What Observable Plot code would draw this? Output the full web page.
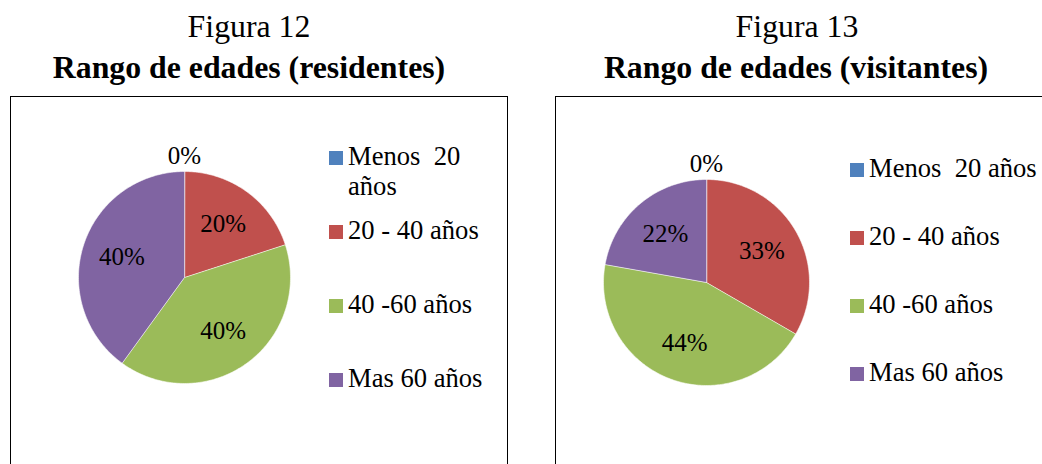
<!DOCTYPE html>
<html>
<head>
<meta charset="utf-8">
<script src="https://cdn.jsdelivr.net/npm/d3@7"></script>
<script src="https://cdn.jsdelivr.net/npm/@observablehq/plot@0.6"></script>
<style>
  html, body { margin: 0; padding: 0; background: #fff; }
  body { width: 1042px; height: 464px; position: relative; overflow: hidden; font-family: "Liberation Serif", "Times New Roman", serif; color: #000; }
  .t1, .t2 { position: absolute; font-size: 31.8px; line-height: 31px; text-align: center; white-space: nowrap; }
  .t2 { font-weight: bold; }
  .box { position: absolute; border: 1.5px solid #000; box-sizing: border-box; }
  .plot { position: absolute; top: 0; }
  .legend { position: absolute; font-size: 26.6px; line-height: 30px; }
  .item { position: relative; padding-left: 19px; white-space: pre-wrap; }
  .sw { position: absolute; left: 0; top: 10px; width: 14px; height: 14px; }
</style>
</head>
<body>
<script>
// ---- data ----
const categories = ["Menos  20 años", "20 - 40 años", "40 -60 años", "Mas 60 años"];
const residentes = [0, 20, 40, 40];
const visitantes = [0, 33.3, 44.4, 22.2];
const titles = [["Figura 12", "Rango de edades (residentes)"], ["Figura 13", "Rango de edades (visitantes)"]];
const colors = ["#4F81BD", "#C0504D", "#9BBB59", "#8064A2"];

const FONT = "'Liberation Serif', 'Times New Roman', serif";

function el(tag, cls, style, text) {
  const e = document.createElement(tag);
  if (cls) e.className = cls;
  Object.assign(e.style, style || {});
  if (text != null) e.textContent = text;
  document.body.appendChild(e);
  return e;
}

function pieChart(values, opts) {
  const data = categories.map((c, i) => ({cat: c, value: values[i]}));
  const arcs = d3.pie().sort(null).value(d => d.value).startAngle(0).endAngle(2 * Math.PI)(data);
  const pts = [];
  const labels = [];
  arcs.forEach(a => {
    const span = a.endAngle - a.startAngle;
    if (span > 0) {
      pts.push({cat: a.data.cat, x: 0, y: 0});
      const n = Math.max(2, Math.ceil(span / (Math.PI / 180)));
      for (let k = 0; k <= n; ++k) {
        const t = a.startAngle + span * k / n;
        pts.push({cat: a.data.cat, x: Math.sin(t), y: Math.cos(t)});
      }
    }
    const mid = (a.startAngle + a.endAngle) / 2;
    const lr = span > 0 ? 0.62 : 1.15;
    labels.push({cat: a.data.cat, x: lr * Math.sin(mid), y: lr * Math.cos(mid), text: Math.round(a.data.value) + "%"});
  });
  const {cx, cy, r} = opts;
  return Plot.plot({
    width: opts.width,
    height: 464,
    margin: 0,
    style: {background: "transparent", fontFamily: FONT, overflow: "visible"},
    x: {domain: [-1, 1], range: [cx - r, cx + r], axis: null},
    y: {domain: [-1, 1], range: [cy + r, cy - r], axis: null},
    color: {domain: categories, range: colors},
    marks: [
      Plot.line(pts, {x: "x", y: "y", z: "cat", fill: "cat", stroke: "#fff", strokeWidth: 0.8, strokeOpacity: 0.7, curve: "linear-closed"}),
      Plot.text(labels, {x: "x", y: "y", text: "text", fontSize: 25, fontFamily: FONT, fill: "#000", textAnchor: "middle", lineAnchor: "middle"})
    ]
  });
}

function legend(left, top, rowH, width) {
  const lg = el("div", "legend", {left: left + "px", top: top + "px", width: width + "px"});
  categories.forEach((c, i) => {
    const it = document.createElement("div");
    it.className = "item";
    it.style.height = rowH + "px";
    const sw = document.createElement("div");
    sw.className = "sw";
    sw.style.background = colors[i];
    it.appendChild(sw);
    it.appendChild(document.createTextNode(c));
    lg.appendChild(it);
  });
}

// ---- left panel ----
el("div", "t1", {left: "0px", width: "498px", top: "11px"}, titles[0][0]);
el("div", "t2", {left: "0px", width: "498px", top: "52px"}, titles[0][1]);
el("div", "box", {left: "10px", top: "96px", width: "498px", height: "400px"});
const p1 = pieChart(residentes, {width: 520, cx: 184, cy: 277, r: 106});
p1.classList.add("plot"); p1.style.left = "0px";
document.body.appendChild(p1);
legend(329, 141, 74, 160);

// ---- right panel ----
el("div", "t1", {left: "547px", width: "500px", top: "11px"}, titles[1][0]);
el("div", "t2", {left: "546px", width: "500px", top: "52px"}, titles[1][1]);
el("div", "box", {left: "555px", top: "96px", width: "520px", height: "400px"});
const p2 = pieChart(visitantes, {width: 522, cx: 186, cy: 282, r: 103});
p2.classList.add("plot"); p2.style.left = "520px";
document.body.appendChild(p2);
legend(850, 153, 68, 220);
</script>
</body>
</html>
